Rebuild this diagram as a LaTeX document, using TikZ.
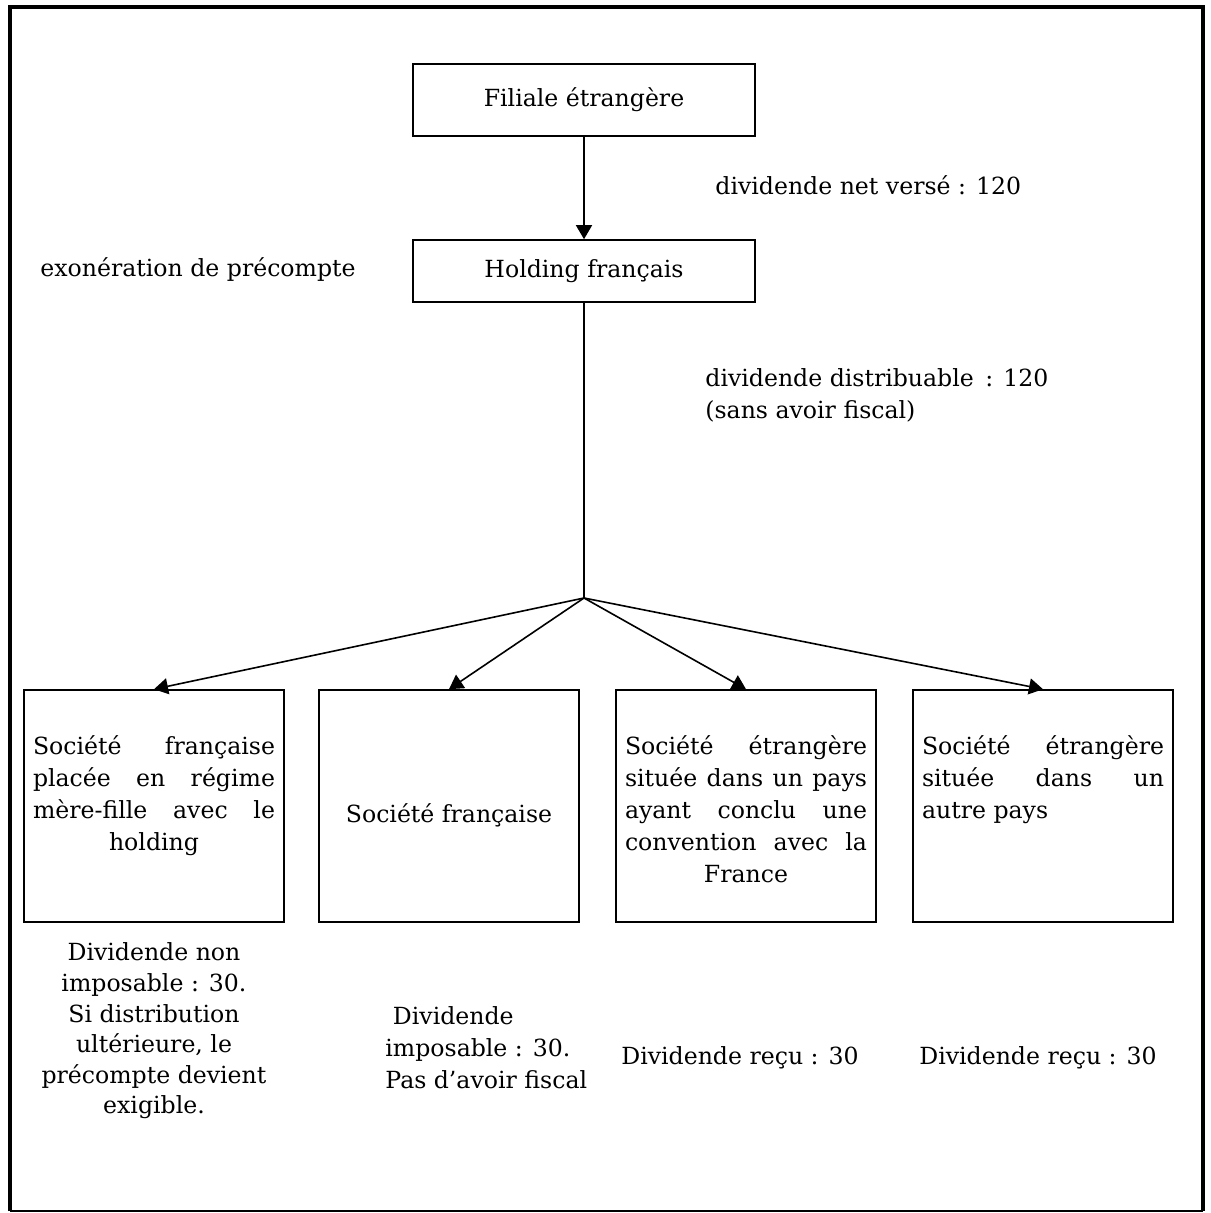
\documentclass[tikz,border=0pt]{standalone}
\usepackage{fontspec}
\setmainfont{DejaVu Serif}
\usetikzlibrary{arrows.meta}

\begin{document}
\begin{tikzpicture}[x=0.5pt,y=-0.5pt,>={Triangle[width=8pt,length=7pt]},
  font=\fontsize{11.8}{16}\selectfont,
  boite/.style={draw,line width=0.8pt,inner sep=0pt},
  bas/.style={draw,line width=0.8pt,inner sep=0pt,minimum width=130pt,minimum height=116pt},
  dedans/.style={anchor=north,inner sep=0pt,text width=121pt,align=justify,
    execute at begin node={\leftskip=0pt plus 1fil\rightskip=0pt plus -1fil\parfillskip=0pt plus 2fil}},
  dedansg/.style={anchor=north,inner sep=0pt,text width=121pt,align=justify},
  fleche/.style={->,line width=0.8pt}]
\useasboundingbox (0,0) rectangle (1210,1213);
% cadre
\draw[line width=2pt](10,1211)--(10,7)--(1203,7)--(1203,1211);
\draw[line width=0.8pt](10,1211)--(1203,1211);
% haut
\node[boite,minimum width=171pt,minimum height=36pt] (filiale) at (584,100) {Filiale étrangère};
\node[boite,minimum width=171pt,minimum height=31pt] (holding) at (584,271) {Holding français};
\coordinate (noeud) at (584,598);
\draw[fleche](filiale)--(holding);
\draw[line width=0.8pt](holding.south)--(noeud);
\node[anchor=west,inner sep=0pt] (verse) at (715,185) {dividende net versé : 120};
\node[anchor=west,inner sep=0pt] (exo) at (40,270) {exonération de précompte};
\node[anchor=west,inner sep=0pt,align=left] (distrib) at (705,395)
  {dividende distribuable \,: 120\\(sans avoir fiscal)};
% les quatre societes
\node[bas] (b1) at (154,806) {};
\node[bas] (b2) at (449,806) {};
\node[bas] (b3) at (746,806) {};
\node[bas] (b4) at (1043,806) {};
\draw[fleche](noeud)--(b1.north);
\draw[fleche](noeud)--(b2.north);
\draw[fleche](noeud)--(b3.north);
\draw[fleche](noeud)--(b4.north);
\node[dedans] (t1) at (154,735) {Société française\break placée en régime\break mère-fille avec le\break holding};
\node[align=center,inner sep=0pt] (t2) at (449,815) {Société française};
\node[dedans] (t3) at (746,735) {Société étrangère\break située dans un pays\break ayant conclu une\break convention avec la\break France};
\node[dedansg] (t4) at (1043,735)
  {Société étrangère\break située dans un\break autre pays};
% dividendes recus
\node[align=center,inner sep=0pt,font=\fontsize{11.8}{15.3}\selectfont] (d1) at (154,1031)
  {Dividende non\\imposable : 30.\\Si distribution\\ultérieure, le\\précompte devient\\exigible.};
\node[align=left,anchor=west,inner sep=0pt] (d2) at (385,1048)
  {\hphantom{i}Dividende\\imposable : 30.\\Pas d'avoir fiscal};
\node[inner sep=0pt] (d3) at (740,1058) {Dividende reçu : 30};
\node[inner sep=0pt] (d4) at (1038,1058) {Dividende reçu : 30};
\end{tikzpicture}
\end{document}
